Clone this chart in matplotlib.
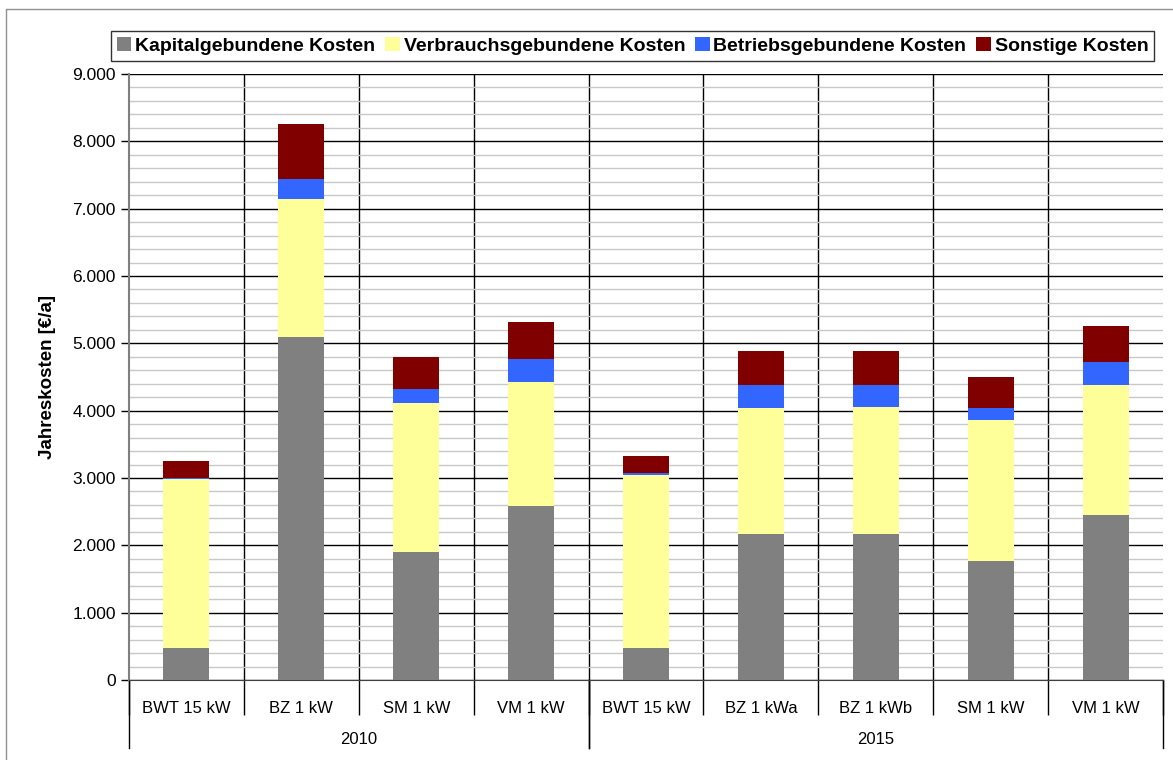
import matplotlib.pyplot as plt
from matplotlib.lines import Line2D
from matplotlib.ticker import FuncFormatter, MultipleLocator
import matplotlib.transforms as mtransforms

# Daten (Jahreskosten in EUR/a)
kategorien = ["BWT 15 kW", "BZ 1 kW", "SM 1 kW", "VM 1 kW",
              "BWT 15 kW", "BZ 1 kWa", "BZ 1 kWb", "SM 1 kW", "VM 1 kW"]
jahre = ["2010", "2015"]
gruppen_groesse = [4, 5]

kapital = [475, 5095, 1900, 2585, 475, 2170, 2170, 1765, 2450]
verbrauch = [2510, 2050, 2215, 1840, 2570, 1870, 1885, 2095, 1930]
betrieb = [20, 297, 208, 340, 30, 340, 325, 180, 340]
sonstige = [250, 817, 475, 550, 250, 505, 505, 460, 535]

reihen = [
    ("Kapitalgebundene Kosten", kapital, "#808080"),
    ("Verbrauchsgebundene Kosten", verbrauch, "#FFFF99"),
    ("Betriebsgebundene Kosten", betrieb, "#3366FF"),
    ("Sonstige Kosten", sonstige, "#800000"),
]

plt.rcParams['font.family'] = ['Liberation Sans', 'DejaVu Sans']

fig = plt.figure(figsize=(11.73, 7.6), dpi=100)
ax = fig.add_axes([0.110, 0.1053, 0.8815, 0.7973])

x = list(range(len(kategorien)))
unten = [0] * len(kategorien)
for name, werte, farbe in reihen:
    ax.bar(x, werte, width=0.4, bottom=unten, color=farbe, label=name, zorder=3)
    unten = [u + w for u, w in zip(unten, werte)]

# Achsen
ax.set_xlim(-0.5, len(kategorien) - 0.5)
ax.set_ylim(0, 9000)
ax.yaxis.set_major_locator(MultipleLocator(1000))
ax.yaxis.set_minor_locator(MultipleLocator(200))
ax.yaxis.set_major_formatter(FuncFormatter(lambda v, p: f"{int(v):,}".replace(",", ".")))
ax.grid(axis='y', which='minor', color='#c8c8c8', linewidth=1.0, zorder=0)
ax.grid(axis='y', which='major', color='black', linewidth=1.0, zorder=1)
for b in range(1, len(kategorien)):
    ax.axvline(b - 0.5, color='black', linewidth=1.0, zorder=1)

ax.tick_params(axis='y', which='major', length=6, width=1, labelsize=12.5, direction='out')
ax.tick_params(axis='y', which='minor', length=0)
ax.set_ylabel("Jahreskosten [€/a]", fontsize=13.5, fontweight='bold', labelpad=12)

# Kategorien und Trennstriche
ax.set_xticks(x)
ax.set_xticklabels(kategorien, fontsize=12)
ax.tick_params(axis='x', which='major', length=0, pad=15)
ax.set_xticks([b - 0.5 for b in range(len(kategorien) + 1)], minor=True)
ax.tick_params(axis='x', which='minor', length=25, width=1, color='black')

trans = mtransforms.blended_transform_factory(ax.transData, ax.transAxes)
start = 0
for jahr, n in zip(jahre, gruppen_groesse):
    mitte = start + (n - 1) / 2
    ax.text(mitte, -0.099, jahr, transform=trans, ha='center', va='center', fontsize=12)
    for grenze in (start - 0.5, start + n - 0.5):
        ax.plot([grenze, grenze], [0, -0.112], transform=trans, color='black',
                linewidth=1.0, clip_on=False)
    start += n

for s in ['top', 'right']:
    ax.spines[s].set_visible(False)
ax.spines['left'].set_color('#808080')
ax.spines['left'].set_linewidth(1.5)
ax.spines['bottom'].set_color('#404040')

leg = ax.legend(loc='lower center', bbox_to_anchor=(0.487, 1.006), ncol=4,
                frameon=True, fancybox=False, edgecolor='black', handlelength=0.75,
                handleheight=0.75, handletextpad=0.2, columnspacing=0.5, borderpad=0.3,
                prop={'weight': 'bold', 'size': 14})
leg.get_frame().set_linewidth(1.0)

# Rahmen (nur links und oben sichtbar)
fig.lines.append(Line2D([0.0055, 0.0055, 1.0], [0.0, 0.988, 0.988], transform=fig.transFigure,
                        color='#909090', linewidth=1.0))

fig.savefig("out.png", dpi=100)
